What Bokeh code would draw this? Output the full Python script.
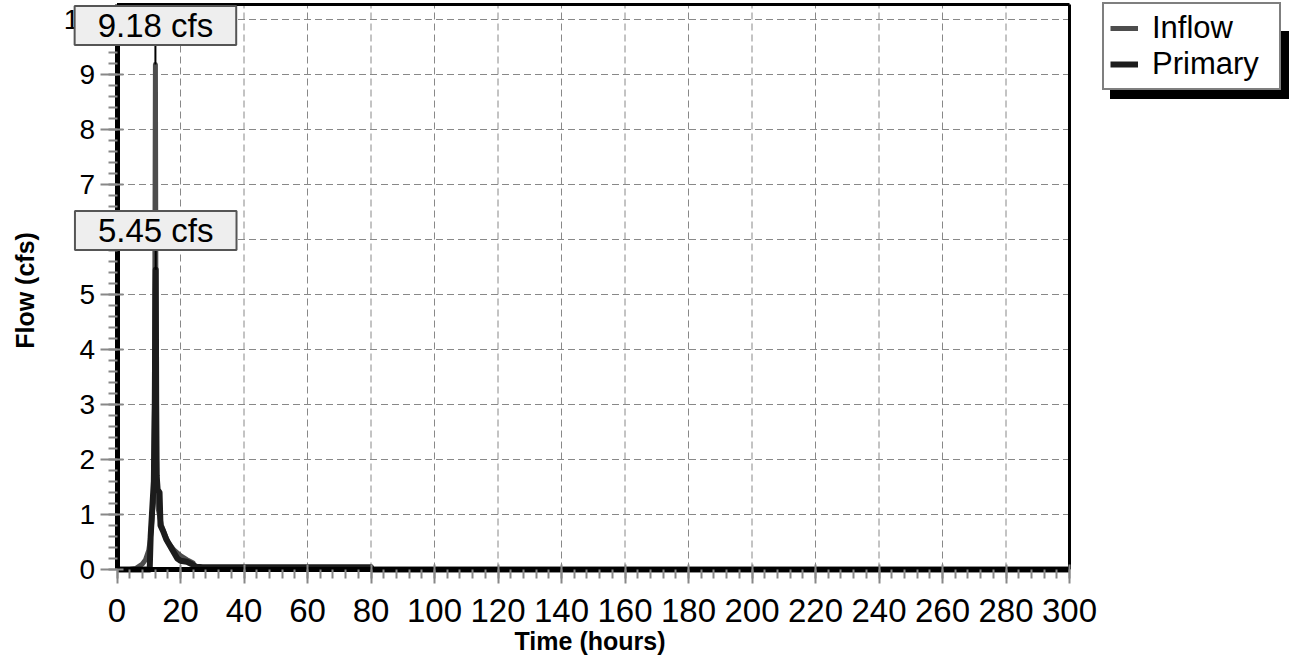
from bokeh.plotting import figure
from bokeh.models import Legend, LegendItem, Label, Range1d, FixedTicker, LinearAxis
from bokeh.core.properties import value
from bokeh.embed import file_html
from bokeh.resources import INLINE

# ---- data ----
inflow_t = [0, 4, 6, 8, 9, 10, 10.5, 11, 11.5, 11.8, 12.0, 12.1, 12.2, 12.3, 12.4, 12.6, 13, 14, 16, 18, 20, 22, 24, 24.3, 30, 300]
inflow_q = [0, 0, 0.02, 0.1, 0.18, 0.35, 0.55, 0.9, 1.4, 3.0, 7.0, 9.18, 6.5, 3.5, 2.2, 1.5, 1.1, 0.8, 0.5, 0.35, 0.25, 0.18, 0.12, 0.02, 0, 0]

primary_t = [0, 10.3, 10.6, 11.0, 11.6, 11.9, 12.1, 12.2, 12.35, 12.5, 12.8, 13.4, 13.7, 14.5, 15.5, 16.5, 18, 19, 20, 22, 23.5, 25, 27, 80, 80.5, 300]
primary_q = [0, 0, 0.6, 1.0, 1.6, 3.0, 5.0, 5.45, 3.0, 1.7, 1.45, 1.4, 0.8, 0.7, 0.55, 0.45, 0.3, 0.2, 0.16, 0.14, 0.1, 0.05, 0.04, 0.04, 0, 0]

series_names = ["Inflow", "Primary"]
peak_text = ["9.18 cfs", "5.45 cfs"]
peak_t = [12.1, 12.2]
peak_q = [9.18, 5.45]

x_ticks = list(range(0, 301, 20))
x_minor = list(range(0, 301, 4))
y_ticks = list(range(0, 11))
y_minor = [i / 5 for i in range(0, 51)]

# ---- layout constants (pixels -> ranges) ----
W, H = 1292, 660
X0_PX, X1_PX = 116.5, 1069.0      # px of x = 0 and x = 300
Y0_PX, YTOP_PX = 569.0, 4.0        # px of y = 0 and of the plot's top edge
PX_PER_Y = 55.0
X_END = 300
XS = (X1_PX - X0_PX) / X_END
Y_TOP = (Y0_PX - YTOP_PX) / PX_PER_Y

label_y = [(Y0_PX - 25) / PX_PER_Y, (Y0_PX - 230) / PX_PER_Y]
FONT = "Liberation Sans"

p = figure(width=W, height=H, title=None,
           x_range=Range1d(-X0_PX / XS, X_END + (W - X1_PX) / XS),
           y_range=Range1d(-(H - Y0_PX) / PX_PER_Y, Y0_PX / PX_PER_Y),
           x_axis_type=None, y_axis_type=None,
           output_backend="svg", toolbar_location=None,
           min_border=0, min_border_left=0, min_border_right=0,
           min_border_top=0, min_border_bottom=0)
p.background_fill_color = "white"
p.border_fill_color = "white"
p.outline_line_color = None

# dashed grid (drawn only inside the plot box)
p.segment(x0=x_ticks, y0=[0] * len(x_ticks), x1=x_ticks, y1=[Y_TOP] * len(x_ticks),
          line_color="#888888", line_width=1, line_dash="7 4", level="underlay")
p.segment(x0=[0] * len(y_ticks), y0=y_ticks, x1=[X_END] * len(y_ticks), y1=y_ticks,
          line_color="#888888", line_width=1, line_dash="7 4", level="underlay")

# top and right edges of the plot box
p.segment(x0=[0, X_END], y0=[Y_TOP, 0], x1=[X_END, X_END], y1=[Y_TOP, Y_TOP],
          line_color="black", line_width=3)

r_in = p.line(inflow_t, inflow_q, line_color="#4d4d4d", line_width=5, line_join="round")
r_pr = p.line(primary_t, primary_q, line_color="#1c1c1c", line_width=6, line_join="round")

# axes fixed at x = 0 / y = 0
xaxis = LinearAxis(fixed_location=0, bounds=(0, X_END),
                   ticker=FixedTicker(ticks=x_ticks, minor_ticks=x_minor))
yaxis = LinearAxis(fixed_location=0, bounds=(0, Y_TOP),
                   ticker=FixedTicker(ticks=y_ticks, minor_ticks=y_minor))
for ax in (xaxis, yaxis):
    ax.axis_line_color = "black"
    ax.axis_line_width = 5
    ax.major_tick_line_color = "#888888"
    ax.minor_tick_line_color = "#888888"
    ax.major_tick_line_width = 2
    ax.minor_tick_line_width = 2
    ax.major_label_text_color = "black"
    ax.major_label_text_font = FONT
    ax.axis_label_text_font = FONT
    ax.axis_label_text_font_style = "bold"
    ax.axis_label_text_font_size = "25px"
    ax.axis_label_text_color = "black"

xaxis.major_tick_out = 14
xaxis.major_tick_in = 5
xaxis.minor_tick_out = 9
xaxis.minor_tick_in = 0
xaxis.major_label_text_font_size = "33px"
xaxis.major_label_standoff = 15
xaxis.axis_label = "Time  (hours)"
xaxis.axis_label_standoff = 2

yaxis.major_tick_out = 17
yaxis.major_tick_in = 6
yaxis.minor_tick_out = 9
yaxis.minor_tick_in = 0
yaxis.major_label_text_font_size = "28px"
yaxis.major_label_standoff = 5
yaxis.axis_label = "Flow  (cfs)"
yaxis.axis_label_standoff = 22

p.add_layout(xaxis, "below")
p.add_layout(yaxis, "left")

# pointer lines from peaks up to their labels
p.segment(x0=peak_t, y0=peak_q, x1=peak_t, y1=label_y, line_color="black", line_width=2)

for t, ly, txt in zip(peak_t, label_y, peak_text):
    p.add_layout(Label(x=t, y=ly, text=txt, text_align="center", text_baseline="middle",
                       text_font=FONT, text_font_size="33px", text_color="black",
                       background_fill_color="#eeeeee", background_fill_alpha=1.0,
                       border_line_color="#555555", border_line_width=2,
                       padding=dict(left=23, right=23, top=1, bottom=1)))

common = dict(orientation="vertical", label_text_font=FONT, label_text_font_size="31px",
              glyph_width=28, glyph_height=26, label_height=26, label_width=121,
              label_standoff=14, padding=6, spacing=0, margin=0,
              border_line_width=2)

LEG_X, LEG_Y = 1102, H - 90
shadow = Legend(items=[LegendItem(label=value(""), renderers=[r_in]),
                       LegendItem(label=value(""), renderers=[r_pr])],
                location=(LEG_X + 8, LEG_Y - 9),
                background_fill_color="black", background_fill_alpha=1.0,
                border_line_color="black", label_text_color="black", **common)
legend = Legend(items=[LegendItem(label=series_names[0], renderers=[r_in]),
                       LegendItem(label=series_names[1], renderers=[r_pr])],
                location=(LEG_X, LEG_Y),
                background_fill_color="white", background_fill_alpha=1.0,
                border_line_color="black", label_text_color="black", **common)
p.add_layout(shadow)
p.add_layout(legend)

open("out.html", "w").write(file_html(p, INLINE))
